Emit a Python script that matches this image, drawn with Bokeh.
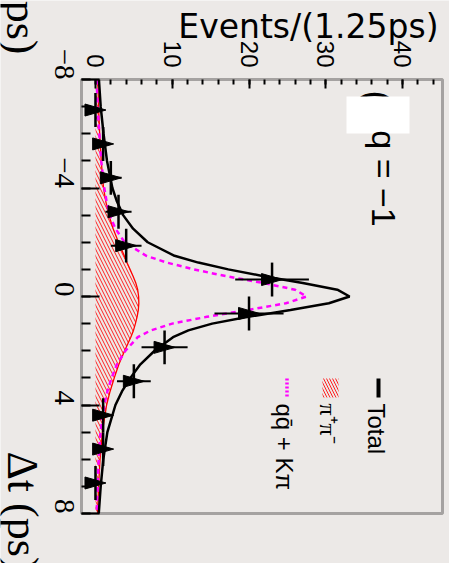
import math
from bokeh.plotting import figure
from bokeh.models import Range1d, FixedTicker, Label, BoxAnnotation
from bokeh.embed import file_html
from bokeh.resources import INLINE

# ---- data -------------------------------------------------------------
# Delta t bin centres (ps), events per 1.25 ps bin and their errors
bin_centers = [-6.875, -5.625, -4.375, -3.125, -1.875, -0.625,
               0.625, 1.875, 3.125, 4.375, 5.625, 6.875]
bin_counts = [0, 1, 2, 3, 4, 23, 20, 9, 5, 1, 1, 0]
count_errors = [0, 1.0, 1.4, 1.7, 2.0, 4.8, 4.5, 3.0, 2.2, 1.0, 1.0, 0]
bin_half_width = 0.625

# fitted projections sampled along Delta t
curve_dt = [-8, -7, -6, -5, -4, -3.5, -3, -2.5, -2, -1.5, -1.25, -1, -0.75,
            -0.5, -0.25, 0, 0.25, 0.5, 0.75, 1, 1.25, 1.5, 2, 2.5, 3, 3.5,
            4, 5, 6, 7, 8]
total_fit = [0.45, 0.68, 1.05, 1.5, 2.2, 2.8, 3.6, 4.9, 6.8, 10.3, 13.4,
             17.3, 21.9, 27.0, 31.5, 33.1, 30.4, 25.4, 19.9, 15.2, 12.1,
             10.1, 7.7, 5.85, 4.55, 3.45, 2.6, 1.55, 1.02, 0.68, 0.43]
qq_kpi_fit = [0.15, 0.28, 0.5, 0.75, 1.15, 1.45, 1.85, 2.6, 3.8, 6.6, 9.3,
              12.8, 17.0, 21.8, 26.0, 27.5, 24.8, 19.8, 14.5, 10.0, 7.2,
              5.5, 3.9, 2.8, 2.1, 1.55, 1.15, 0.65, 0.42, 0.28, 0.15]
pipi_fit = [0.3, 0.4, 0.55, 0.75, 1.05, 1.35, 1.75, 2.3, 3.0, 3.75, 4.1,
            4.5, 4.9, 5.25, 5.5, 5.62, 5.65, 5.58, 5.42, 5.2, 4.95, 4.6,
            3.8, 3.05, 2.45, 1.9, 1.45, 0.9, 0.6, 0.4, 0.28]

event_ticks = [0, 10, 20, 30, 40]
dt_ticks = [-8, -4, 0, 4, 8]
dt_tick_labels = ["\u22128", "\u22124", "0", "4", "8"]

# ---- layout helpers ---------------------------------------------------
W, H = 449, 563
BOX_L, BOX_R, BOX_T, BOX_B = 81, 442, 79, 513   # plotting box in pixels
EV_MIN, EV_MAX = -1.82, 45.2
DT_MIN, DT_MAX = -8.0, 8.0
PX_EV = (BOX_R - BOX_L) / (EV_MAX - EV_MIN)
PX_DT = (BOX_B - BOX_T) / (DT_MAX - DT_MIN)


def ev(px):
    """canvas x pixel -> events coordinate"""
    return EV_MIN + (px - BOX_L) / PX_EV


def ps(py):
    """canvas y pixel -> Delta t coordinate"""
    return DT_MIN + (py - BOX_T) / PX_DT


BG = "#ECE9E7"
SANS = "Liberation Sans Narrow, Liberation Sans, Arial, sans-serif"
SERIF = "Liberation Serif, Times New Roman, serif"
CW = -math.pi / 2  # text read top-to-bottom

# the frame spans the whole canvas; the axes are pinned to the box edges
p = figure(width=W, height=H, output_backend="svg", toolbar_location=None,
           x_range=Range1d(ev(0), ev(W)), y_range=Range1d(ps(H), ps(0)),
           x_axis_location="above", min_border=0)
p.background_fill_color = BG
p.border_fill_color = BG
p.outline_line_color = None
p.grid.visible = False

# events axis (top edge of the box)
xa = p.xaxis[0]
xa.fixed_location = DT_MIN
xa.ticker = FixedTicker(ticks=event_ticks, minor_ticks=list(range(0, 46, 2)))
xa.major_label_orientation = CW
xa.major_label_text_font = SANS
xa.major_label_text_font_size = "24px"
xa.major_label_text_color = "black"
xa.major_label_standoff = 12
xa.axis_line_color = None
xa.major_tick_in, xa.major_tick_out = 9, 0
xa.minor_tick_in, xa.minor_tick_out = 5, 0
xa.major_tick_line_width = 2
xa.minor_tick_line_width = 2
xa.major_tick_line_color = "black"
xa.minor_tick_line_color = "black"

# Delta t axis (left edge of the box)
ya = p.yaxis[0]
ya.fixed_location = EV_MIN
ya.ticker = FixedTicker(ticks=dt_ticks, minor_ticks=list(range(-8, 9)))
ya.major_label_overrides = dict(zip(dt_ticks, dt_tick_labels))
ya.major_label_orientation = CW
ya.major_label_text_font = SERIF
ya.major_label_text_font_size = "29px"
ya.major_label_text_color = "black"
ya.major_label_standoff = 17
ya.axis_line_color = None
ya.major_tick_in, ya.major_tick_out = 18, 0
ya.minor_tick_in, ya.minor_tick_out = 9, 0
ya.major_tick_line_width = 2
ya.minor_tick_line_width = 2
ya.major_tick_line_color = "black"
ya.minor_tick_line_color = "black"

# ---- fitted components ------------------------------------------------
zero_line = [0.0] * len(curve_dt)
p.harea(y=curve_dt, x1=zero_line, x2=pipi_fit, fill_alpha=0,
        hatch_pattern="\\", hatch_color="#FF2020", hatch_weight=1,
        hatch_scale=7)
p.line(pipi_fit, curve_dt, line_color="#FF0000", line_width=1.3)
p.line(qq_kpi_fit, curve_dt, line_color="#FF00FF", line_width=2.5,
       line_dash="5 4")
p.line(total_fit, curve_dt, line_color="black", line_width=2.5)

# ---- data points ------------------------------------------------------
p.segment(x0=[c - e for c, e in zip(bin_counts, count_errors)], y0=bin_centers,
          x1=[c + e for c, e in zip(bin_counts, count_errors)], y1=bin_centers,
          line_color="black", line_width=2)
p.segment(x0=bin_counts, y0=[d - bin_half_width for d in bin_centers],
          x1=bin_counts, y1=[d + bin_half_width for d in bin_centers],
          line_color="black", line_width=2.5)
tri_a = 10.5 / PX_EV
tri_b = 6.0 / PX_DT
p.patches(xs=[[c - tri_a, c + tri_a, c - tri_a] for c in bin_counts],
          ys=[[d - tri_b, d, d + tri_b] for d in bin_centers],
          fill_color="black", line_color="black", line_width=1)

# plotting box outline
p.add_layout(BoxAnnotation(left=EV_MIN, right=EV_MAX, top=DT_MIN, bottom=DT_MAX,
                           fill_alpha=0, line_color="black", line_width=3))

# ---- legend -----------------------------------------------------------
p.segment(x0=[ev(378)], y0=[ps(378)], x1=[ev(378)], y1=[ps(397)],
          line_color="black", line_width=4)
p.add_layout(BoxAnnotation(left=ev(322), right=ev(338), top=ps(378),
                           bottom=ps(397), fill_alpha=0, line_alpha=0,
                           hatch_pattern="\\", hatch_color="#FF2020",
                           hatch_weight=1, hatch_scale=6))
p.segment(x0=[ev(286.5)], y0=[ps(378)], x1=[ev(286.5)], y1=[ps(397)],
          line_color="#FF00FF", line_width=3.5, line_dash="2 2")


def label(text, px, py, size, font, align="left", angle=CW):
    """text centred (across its lines) on canvas pixel position px, py"""
    p.add_layout(Label(x=ev(px), y=ps(py), text=text, angle=angle,
                       text_font=font, text_font_size=f"{size}px",
                       text_color="black", text_align=align,
                       text_baseline="middle"))


label("Total", 376, 403, 24, SANS)
label("\u03c0\u207a\u03c0\u207b", 327, 403, 24, SERIF)
label("qq\u0304 + K\u03c0", 284, 403, 24, SANS)

# flavour tag
label("(", 377, 90, 36, SANS)
p.add_layout(BoxAnnotation(left=ev(346), right=ev(409), top=ps(96),
                           bottom=ps(133), fill_color="white", fill_alpha=1,
                           line_alpha=0))
label("q = \u22121", 383, 178, 34, SANS, align="center")

# axis titles
label("Events/(1.25ps)", 438, 26, 33, "DejaVu Sans", align="right", angle=0)
label("\u0394t (ps)", 22, 451, 44, SERIF)
label("\u0394t (ps)", 21, 54, 44, SERIF, align="right")

open("out.html", "w").write(file_html(p, INLINE))
